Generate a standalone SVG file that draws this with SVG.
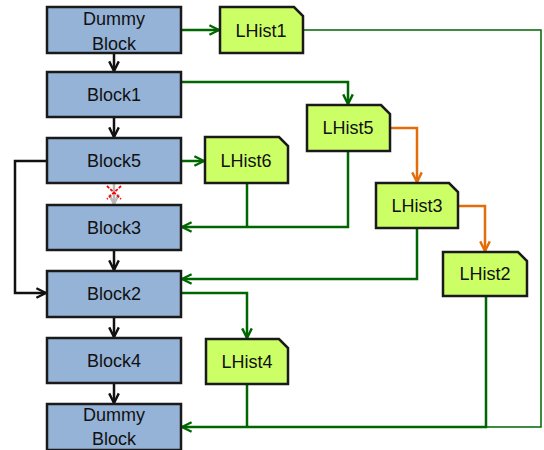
<svg xmlns="http://www.w3.org/2000/svg" width="544" height="450" viewBox="0 0 544 450">
<style>
.blk{fill:#95b3d7;stroke:#1a1a1a;stroke-width:2.5}
.lh{fill:#ccff66;stroke:#1a1a1a;stroke-width:2.5}
text{font-family:"Liberation Sans",Arial,sans-serif;font-size:18px;fill:#111;text-anchor:middle}
.k{fill:none;stroke:#111;stroke-width:2.5}
.g{fill:none;stroke:#006600;stroke-width:2.5}
.gt{fill:none;stroke:#006600;stroke-width:1.5}
.o{fill:none;stroke:#e46c0a;stroke-width:2.5}
</style>
<defs>
<marker id="ak" viewBox="0 0 10 10" refX="9" refY="5" markerWidth="4.8" markerHeight="4.8" orient="auto" markerUnits="strokeWidth"><path d="M1,1 L9,5 L1,9" fill="none" stroke="#111" stroke-width="2"/></marker>
<marker id="ag" viewBox="0 0 10 10" refX="9" refY="5" markerWidth="4.8" markerHeight="4.8" orient="auto" markerUnits="strokeWidth"><path d="M1,1 L9,5 L1,9" fill="none" stroke="#006600" stroke-width="2"/></marker>
<marker id="ao" viewBox="0 0 10 10" refX="9" refY="5" markerWidth="4.8" markerHeight="4.8" orient="auto" markerUnits="strokeWidth"><path d="M1,1 L9,5 L1,9" fill="none" stroke="#e46c0a" stroke-width="2"/></marker>
<marker id="agr" viewBox="0 0 10 10" refX="9" refY="5" markerWidth="4.8" markerHeight="4.8" orient="auto" markerUnits="strokeWidth"><path d="M1,1 L9,5 L1,9" fill="none" stroke="#bbbbbb" stroke-width="2"/></marker>
</defs>
<g id="connectors">
<line class="k" x1="114" y1="53" x2="114" y2="71" marker-end="url(#ak)"/>
<line class="k" x1="114" y1="117" x2="114" y2="137" marker-end="url(#ak)"/>
<line x1="114" y1="183" x2="114" y2="204" stroke="#bbbbbb" stroke-width="2.5" marker-end="url(#agr)"/>
<g stroke="#ff0000" stroke-width="1.8" stroke-dasharray="3,1.5"><line x1="107" y1="186" x2="121" y2="199"/><line x1="121" y1="186" x2="107" y2="199"/></g>
<line class="k" x1="114" y1="250" x2="114" y2="270" marker-end="url(#ak)"/>
<line class="k" x1="114" y1="317" x2="114" y2="337" marker-end="url(#ak)"/>
<line class="k" x1="114" y1="383" x2="114" y2="403" marker-end="url(#ak)"/>
<polyline class="k" points="47,161 15,161 15,293 46,293" marker-end="url(#ak)"/>
<line class="g" x1="181" y1="30" x2="219" y2="30" marker-end="url(#ag)"/>
<polyline class="gt" points="303,30 541,30 541,427 486,427"/>
<polyline class="g" points="181,82 348,82 348,104" marker-end="url(#ag)"/>
<line class="g" x1="181" y1="161" x2="204" y2="161" marker-end="url(#ag)"/>
<polyline class="g" points="348,151 348,227 182,227" marker-end="url(#ag)"/>
<line class="g" x1="247" y1="183" x2="247" y2="227"/>
<polyline class="o" points="390,128 417,128 417,182" marker-end="url(#ao)"/>
<polyline class="o" points="458,206 485,206 485,251" marker-end="url(#ao)"/>
<polyline class="g" points="417,228 417,279 182,279" marker-end="url(#ag)"/>
<polyline class="g" points="181,293 247,293 247,338" marker-end="url(#ag)"/>
<polyline class="g" points="486,296 486,427 182,427" marker-end="url(#ag)"/>
<line class="g" x1="247" y1="384" x2="247" y2="427"/>
</g>
<g id="dummy_top"><rect class="blk" x="47" y="7" width="134" height="46"/><text x="114" y="25">Dummy</text><text x="114" y="50">Block</text></g>
<g id="block1"><rect class="blk" x="47" y="72" width="134" height="45"/><text x="114" y="101">Block1</text></g>
<g id="block5"><rect class="blk" x="47" y="138" width="134" height="45"/><text x="114" y="167">Block5</text></g>
<g id="block3"><rect class="blk" x="47" y="205" width="134" height="45"/><text x="114" y="234">Block3</text></g>
<g id="block2"><rect class="blk" x="47" y="271" width="134" height="46"/><text x="114" y="300">Block2</text></g>
<g id="block4"><rect class="blk" x="47" y="338" width="134" height="45"/><text x="114" y="367">Block4</text></g>
<g id="dummy_bottom"><rect class="blk" x="47" y="404" width="134" height="46"/><text x="114" y="421">Dummy</text><text x="114" y="445">Block</text></g>
<g id="lhist1"><path class="lh" d="M220,7 H294 L303,16 V53 H220 Z"/><text x="261" y="37">LHist1</text></g>
<g id="lhist5"><path class="lh" d="M307,105 H381 L390,114 V151 H307 Z"/><text x="348" y="134">LHist5</text></g>
<g id="lhist6"><path class="lh" d="M205,137 H279 L288,146 V183 H205 Z"/><text x="246" y="167">LHist6</text></g>
<g id="lhist3"><path class="lh" d="M376,183 H449 L458,192 V228 H376 Z"/><text x="417" y="212">LHist3</text></g>
<g id="lhist2"><path class="lh" d="M443,252 H518 L527,261 V296 H443 Z"/><text x="485" y="280">LHist2</text></g>
<g id="lhist4"><path class="lh" d="M206,339 H279 L288,348 V384 H206 Z"/><text x="247" y="368">LHist4</text></g>
</svg>
